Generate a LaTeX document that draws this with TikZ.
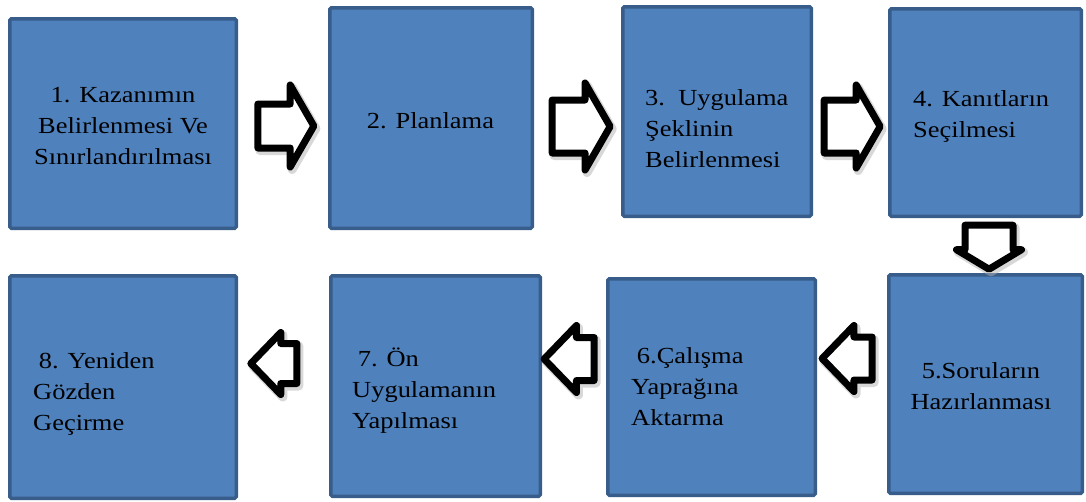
\documentclass[tikz,border=0pt]{standalone}
\usepackage{fontspec}
\setmainfont{Liberation Serif}[FakeStretch=1.15]
\usetikzlibrary{positioning, shapes.arrows, shadows, calc}
\definecolor{boxfill}{HTML}{4F81BD}
\definecolor{boxline}{HTML}{385D8A}

\begin{document}
\begin{tikzpicture}[x=1pt, y=-1pt]
    \tikzstyle{box} = [rectangle, draw=boxline, fill=boxfill, line width=3.5pt, rounded corners=1.5pt, inner sep=0pt]
    \tikzstyle{txt} = [inner sep=0pt, font=\fontsize{23}{31}\selectfont, align=left]
    \tikzstyle{blockarrow} = [single arrow, draw=black, fill=white, line width=7pt, line join=round, inner sep=0pt,
        drop shadow={shadow xshift=2pt, shadow yshift=-2.5pt, fill=black!30, draw=black!30, line width=9pt, opacity=0.5}]
    \useasboundingbox (0,0) rectangle (1086,501);

    % Top row
    \node[box, minimum width=226.5pt, minimum height=209.5pt] (b1) at (123,123.5) {};
    \node[box, minimum width=202.5pt, minimum height=220.5pt] (b2) at (431,118) {};
    \node[box, minimum width=188.5pt, minimum height=209.5pt] (b3) at (717,111.5) {};
    \node[box, minimum width=191.5pt, minimum height=207.5pt] (b4) at (985.5,112.5) {};

    % Bottom row
    \node[box, minimum width=193.5pt, minimum height=218.5pt] (b5) at (985.5,384) {};
    \node[box, minimum width=207.5pt, minimum height=216.5pt] (b6) at (711.5,387) {};
    \node[box, minimum width=209.5pt, minimum height=220.5pt] (b7) at (435.5,386) {};
    \node[box, minimum width=226.5pt, minimum height=222.5pt] (b8) at (123,387) {};

    % Texts (base = last line)
    \node[txt, align=center, anchor=base] (t1) at (123,164) {1. Kazanımın\\Belirlenmesi Ve\\Sınırlandırılması};
    \node[txt, anchor=base] (t2) at (430.5,128) {2. Planlama};
    \node[txt, anchor=base west] (t3) at (645,167) {3.~~Uygulama\\Şeklinin\\Belirlenmesi};
    \node[txt, anchor=base west] (t4) at (913,137) {4. Kanıtların\\Seçilmesi};
    \node[txt, align=center, anchor=base] (t5) at (981,409) {5.Soruların\\Hazırlanması};
    \node[txt, anchor=base west] (t6) at (631,425) {\hspace*{0.25em}6.Çalışma\\Yaprağına\\Aktarma};
    \node[txt, anchor=base west] (t7) at (352,428) {\hspace*{0.25em}7. Ön\\Uygulamanın\\Yapılması};
    \node[txt, anchor=base west] (t8) at (33,430) {\hspace*{0.25em}8. Yeniden\\Gözden\\Geçirme};

    % Arrows
    \node[blockarrow, text height=18.5pt, text depth=18.5pt, minimum height=56pt, minimum width=75pt, single arrow head extend=19pt, single arrow tip angle=120] (a12) at (279.5,126) {};
    \node[blockarrow, text height=23pt, text depth=23pt, minimum height=58pt, minimum width=80pt, single arrow head extend=17pt, single arrow tip angle=120] (a23) at (573.5,126.5) {};
    \node[blockarrow, text height=23pt, text depth=23pt, minimum height=56pt, minimum width=76pt, single arrow head extend=15pt, single arrow tip angle=120] (a34) at (844.5,126.5) {};
    \node[blockarrow, text height=20.5pt, text depth=20.5pt, minimum height=44pt, minimum width=58pt, single arrow head extend=8.5pt, single arrow tip angle=118, rotate=-90] (a45) at (989,240) {};
    \node[blockarrow, text height=18pt, text depth=18pt, minimum height=50pt, minimum width=59pt, single arrow head extend=11.5pt, single arrow tip angle=92, rotate=180] (a56) at (857.5,358.5) {};
    \node[blockarrow, text height=18pt, text depth=18pt, minimum height=50pt, minimum width=60pt, single arrow head extend=12pt, single arrow tip angle=92, rotate=180] (a67) at (579.5,359) {};
    \node[blockarrow, text height=16.5pt, text depth=16.5pt, minimum height=46pt, minimum width=55pt, single arrow head extend=11pt, single arrow tip angle=92, rotate=180] (a78) at (283.5,363.5) {};
\end{tikzpicture}
\end{document}
